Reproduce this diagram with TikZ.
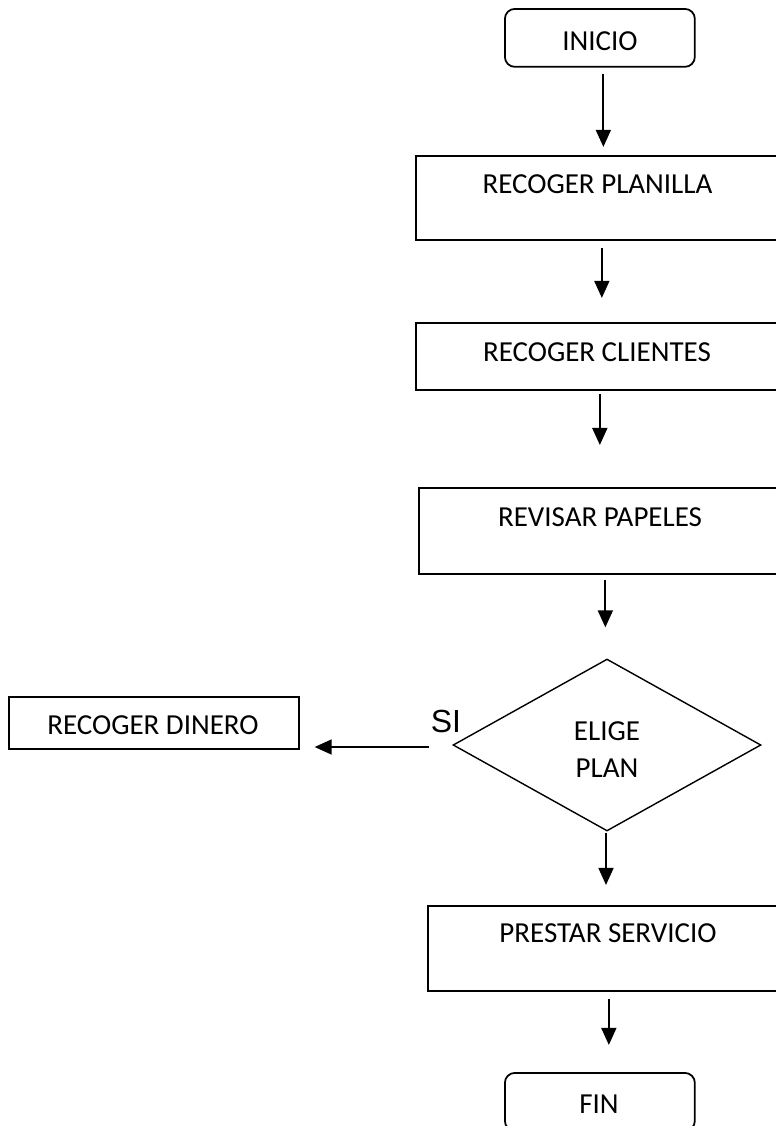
\documentclass[tikz,border=0pt]{standalone}
\usepackage{fontspec}
\setmainfont{Carlito}
\newfontfamily\arialfont{Liberation Sans}
\usetikzlibrary{shapes.geometric, arrows.meta, calc}

\begin{document}
\begin{tikzpicture}[x=0.02cm, y=-0.02cm, line width=1pt,
  box node/.style={rectangle, draw, anchor=north west, inner sep=0pt},
  end node/.style={box node, rounded corners=5.7pt, minimum width=3.8cm, minimum height=1.16cm},
  text node/.style={inner sep=0pt, align=center, font=\fontsize{16.5}{21}\selectfont},
  flow/.style={-{Triangle[length=9.7pt, width=8.5pt]}, line width=1.1pt}]
  \useasboundingbox (0,0) rectangle (776,1126);
  \clip (0,0) rectangle (776,1126);

  % boxes
  \node[end node] (inicio) at (504,8) {};
  \node[box node, minimum width=7.6cm, minimum height=1.68cm] (planilla) at (415,155) {};
  \node[box node, minimum width=7.6cm, minimum height=1.34cm] (clientes) at (415,322) {};
  \node[box node, minimum width=7.54cm, minimum height=1.72cm] (papeles) at (418,487) {};
  \node[diamond, draw, line width=0.8pt, inner sep=0pt, minimum width=6.16cm, minimum height=3.44cm] (elige) at (607,745) {};
  \node[box node, minimum width=5.8cm, minimum height=1.04cm] (dinero) at (8,696) {};
  \node[box node, minimum width=7.36cm, minimum height=1.7cm] (servicio) at (427,905) {};
  \node[end node] (fin) at (504,1072) {};

  % texts
  \node[text node] (inicio text) at (600,41) {INICIO};
  \node[text node] (planilla text) at (597.5,184) {RECOGER PLANILLA};
  \node[text node] (clientes text) at (597,352.5) {RECOGER CLIENTES};
  \node[text node] (papeles text) at (600,517) {REVISAR PAPELES};
  \node[text node] (elige text) at (607,750) {ELIGE\\PLAN};
  \node[text node] (dinero text) at (153,725.5) {RECOGER DINERO};
  \node[text node] (servicio text) at (608,933) {PRESTAR SERVICIO};
  \node[text node] (fin text) at (599,1104) {FIN};
  \node[inner sep=0pt, font=\arialfont\fontsize{18.2}{22}\selectfont] (si) at (446,721.5) {SI};

  % arrows
  \draw[flow, shorten <=3.4pt, shorten >=4.6pt] ($(inicio.south)+(3.5,0)$) -- ($(inicio.south |- planilla.north)+(3.5,0)$);
  \draw[flow, shorten <=4pt, shorten >=13.7pt] ($(planilla.south)+(-4,0)$) -- ($(planilla.south |- clientes.north)+(-4,0)$);
  \draw[flow, shorten <=1.7pt, shorten >=23.9pt] ($(clientes.south)+(-6,0)$) -- ($(clientes.south |- papeles.north)+(-6,0)$);
  \draw[flow, shorten <=2.8pt, shorten >=17.6pt] ($(papeles.south)+(-2,0)$) -- ($(papeles.south |- elige.north)+(-2,0)$);
  \draw[flow, shorten <=0.5pt, shorten >=11.4pt] ($(elige.south)+(-1,0)$) -- ($(elige.south |- servicio.north)+(-1,0)$);
  \draw[flow, shorten <=4pt, shorten >=15.4pt] ($(servicio.south)+(-3,0)$) -- ($(servicio.south |- fin.north)+(-3,0)$);
  \draw[flow, shorten <=13.1pt, shorten >=8.5pt] ($(elige.west)+(0,2)$) -- ($(elige.west -| dinero.east)+(0,2)$);
\end{tikzpicture}
\end{document}
